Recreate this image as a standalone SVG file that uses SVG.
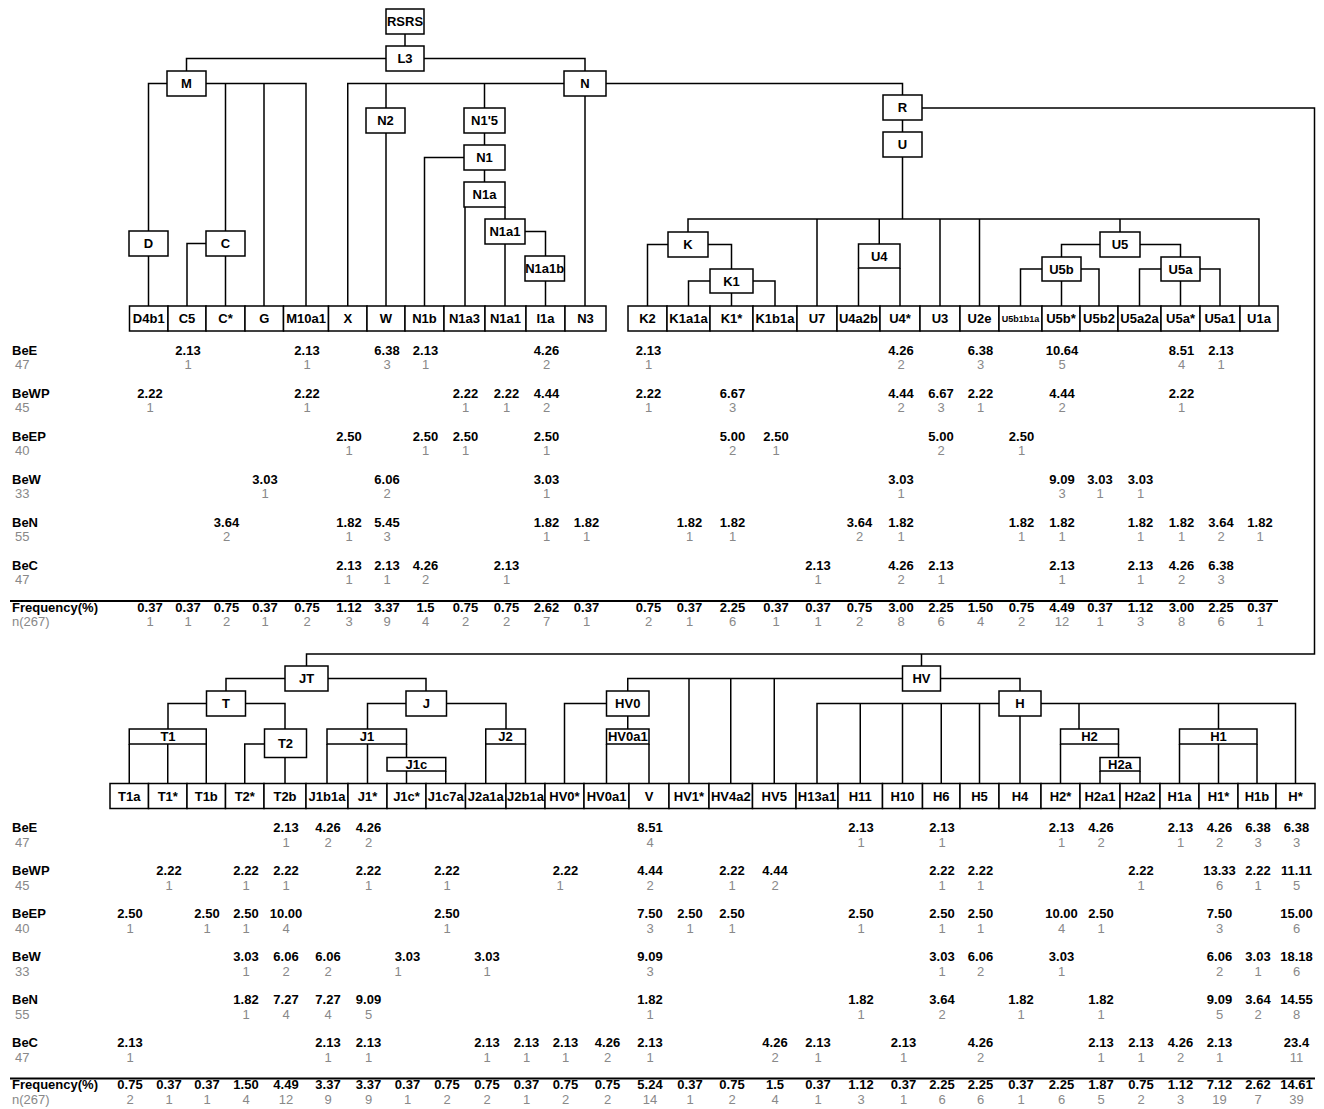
<svg xmlns="http://www.w3.org/2000/svg" width="1324" height="1109" viewBox="0 0 1324 1109">
<style>
rect{fill:#fff;stroke:#000;stroke-width:1.5}
.cn path{fill:none;stroke:#000;stroke-width:1.5}
text{font-family:"Liberation Sans",Arial,sans-serif;font-size:13px}
.n text,text.n{font-weight:bold;text-anchor:middle}
.v{font-weight:bold;text-anchor:middle}
.c{fill:#888;text-anchor:middle}
.lb{font-weight:bold}
.lc{fill:#888}
.sep{stroke:#000;stroke-width:2}
</style>
<rect x="0" y="0" width="1324" height="1109" style="stroke:none"/>
<g id="connectors" class="cn">
<path d="M405,34V46"/>
<path d="M186.5,71V58.5H585V71"/>
<path d="M148.5,231V83.5H306V306"/>
<path d="M225.5,83.5V231M264,83.5V306"/>
<path d="M148.5,256V306M206,243.5H187V306M225.5,256V306"/>
<path d="M347.75,306V83.5H902.5V95"/>
<path d="M386,83.5V108M386,133V306"/>
<path d="M484.5,83.5V108M484.5,133V145M484.5,170V182"/>
<path d="M464,157.5H424.5V306"/>
<path d="M465,207V306M505,207V219M505,244V306"/>
<path d="M525,231.5H545.5V256M545.5,281V306"/>
<path d="M585,96V306"/>
<path d="M902.5,120V132M902.5,157V219"/>
<path d="M922,108H1314.5V654H306.5V666"/>
<path d="M688,232V219H1259V306"/>
<path d="M817,219V306M879.25,219V244M940,219V306M979.5,219V306M1120,219V232"/>
<path d="M668,244.5H647.5V306M708,244.5H731.5V269"/>
<path d="M710,281H688.5V306M753,281H775V306M731.5,293V306"/>
<path d="M858.5,268V306M900,268V306"/>
<path d="M1100,244.5H1061.5V257M1140,244.5H1180.5V257"/>
<path d="M1042,269H1020.5V306M1081,269H1099V306M1061.5,281V306"/>
<path d="M1161,269H1139.5V306M1200,269H1220V306M1180.5,281V306"/>
<path d="M226,691V678.5H426V691"/>
<path d="M168,729V703.5H285V729"/>
<path d="M129.25,744V783.5M167.75,744V783.5M206.25,744V783.5"/>
<path d="M264.5,744H244.75V783.5M285,757.5V783.5"/>
<path d="M367.5,729V703.5H506V729"/>
<path d="M327,744V783.5M367.5,744V783.5M406.5,744V757.5"/>
<path d="M406.5,771V783.5M445.75,771V783.5"/>
<path d="M485.75,744V783.5M525.5,744V783.5"/>
<path d="M627.75,691V678.5H1020V691M921.5,654V666"/>
<path d="M606.5,703.5H564.5V783.5M627.75,716V729"/>
<path d="M606.5,744V783.5M649,744V783.5"/>
<path d="M689,678.5V783.5M730.75,678.5V783.5M774.25,678.5V783.5"/>
<path d="M817,783.5V703.5H1295.5V783.5"/>
<path d="M860.25,703.5V783.5M902.5,703.5V783.5M941.25,703.5V783.5M979.5,703.5V783.5M1020,716V783.5"/>
<path d="M1079,703.5V729M1060.5,744V783.5M1118.5,744V757.5M1100,771V783.5M1140,771V783.5"/>
<path d="M1218.5,703.5V729M1179.5,744V783.5M1218.5,744V783.5M1257,744V783.5"/>
</g>
<g class="n">
<g id="node-RSRS"><rect x="386" y="9" width="38" height="25"/><text x="405" y="26">RSRS</text></g>
<g id="node-L3"><rect x="386" y="46" width="38" height="25"/><text x="405" y="63">L3</text></g>
<g id="node-M"><rect x="167" y="71" width="39" height="25"/><text x="186.5" y="88">M</text></g>
<g id="node-N"><rect x="564" y="71" width="42" height="25"/><text x="585" y="88">N</text></g>
<g id="node-D"><rect x="129" y="231" width="39" height="25"/><text x="148.5" y="248">D</text></g>
<g id="node-C"><rect x="206" y="231" width="39" height="25"/><text x="225.5" y="248">C</text></g>
<g id="node-N2"><rect x="366" y="108" width="39" height="25"/><text x="385.5" y="125">N2</text></g>
<g id="node-N1p5"><rect x="464" y="108" width="41" height="25"/><text x="484.5" y="125">N1'5</text></g>
<g id="node-N1"><rect x="464" y="145" width="41" height="25"/><text x="484.5" y="162">N1</text></g>
<g id="node-N1a"><rect x="464" y="182" width="41" height="25"/><text x="484.5" y="199">N1a</text></g>
<g id="node-N1a1"><rect x="485" y="219" width="40" height="25"/><text x="505" y="236">N1a1</text></g>
<g id="node-N1a1b"><rect x="525" y="256" width="39.5" height="25"/><text x="544.75" y="273">N1a1b</text></g>
<g id="node-R"><rect x="883" y="95" width="39" height="25"/><text x="902.5" y="112">R</text></g>
<g id="node-U"><rect x="883" y="132" width="39" height="25"/><text x="902.5" y="149">U</text></g>
<g id="node-K"><rect x="668" y="232" width="40" height="25"/><text x="688" y="249">K</text></g>
<g id="node-K1"><rect x="710" y="269" width="43" height="24"/><text x="731.5" y="285.5">K1</text></g>
<g id="node-U4"><rect x="858.5" y="244" width="41.5" height="24"/><text x="879.25" y="260.5">U4</text></g>
<g id="node-U5"><rect x="1100" y="232" width="40" height="25"/><text x="1120" y="249">U5</text></g>
<g id="node-U5b"><rect x="1042" y="257" width="39" height="24"/><text x="1061.5" y="273.5">U5b</text></g>
<g id="node-U5a"><rect x="1161" y="257" width="39" height="24"/><text x="1180.5" y="273.5">U5a</text></g>

<g id="leaf-D4b1"><rect x="129.5" y="306" width="38.5" height="25"/><text x="148.75" y="323">D4b1</text></g>
<g id="leaf-C5"><rect x="168" y="306" width="38" height="25"/><text x="187" y="323">C5</text></g>
<g id="leaf-Cstar"><rect x="206" y="306" width="39" height="25"/><text x="225.5" y="323">C*</text></g>
<g id="leaf-G"><rect x="245" y="306" width="38.5" height="25"/><text x="264.25" y="323">G</text></g>
<g id="leaf-M10a1"><rect x="283.5" y="306" width="45" height="25"/><text x="306" y="323">M10a1</text></g>
<g id="leaf-X"><rect x="328.5" y="306" width="38.5" height="25"/><text x="347.75" y="323">X</text></g>
<g id="leaf-W"><rect x="367" y="306" width="38" height="25"/><text x="386" y="323">W</text></g>
<g id="leaf-N1b"><rect x="405" y="306" width="39" height="25"/><text x="424.5" y="323">N1b</text></g>
<g id="leaf-N1a3"><rect x="444" y="306" width="41" height="25"/><text x="464.5" y="323">N1a3</text></g>
<g id="leaf-N1a1"><rect x="485" y="306" width="41" height="25"/><text x="505.5" y="323">N1a1</text></g>
<g id="leaf-I1a"><rect x="526" y="306" width="39" height="25"/><text x="545.5" y="323">I1a</text></g>
<g id="leaf-N3"><rect x="565" y="306" width="41" height="25"/><text x="585.5" y="323">N3</text></g>
<g id="leaf-K2"><rect x="628" y="306" width="39" height="25"/><text x="647.5" y="323">K2</text></g>
<g id="leaf-K1a1a"><rect x="667" y="306" width="43" height="25"/><text x="688.5" y="323">K1a1a</text></g>
<g id="leaf-K1star"><rect x="710" y="306" width="43" height="25"/><text x="731.5" y="323">K1*</text></g>
<g id="leaf-K1b1a"><rect x="753" y="306" width="44" height="25"/><text x="775" y="323">K1b1a</text></g>
<g id="leaf-U7"><rect x="797" y="306" width="40" height="25"/><text x="817" y="323">U7</text></g>
<g id="leaf-U4a2b"><rect x="837" y="306" width="43" height="25"/><text x="858.5" y="323">U4a2b</text></g>
<g id="leaf-U4star"><rect x="880" y="306" width="40" height="25"/><text x="900" y="323">U4*</text></g>
<g id="leaf-U3"><rect x="920" y="306" width="40" height="25"/><text x="940" y="323">U3</text></g>
<g id="leaf-U2e"><rect x="960" y="306" width="39" height="25"/><text x="979.5" y="323">U2e</text></g>
<g id="leaf-U5b1b1a"><rect x="999" y="306" width="43" height="25"/><text x="1020.5" y="321.5" style="font-size:9px">U5b1b1a</text></g>
<g id="leaf-U5bstar"><rect x="1042" y="306" width="38" height="25"/><text x="1061" y="323">U5b*</text></g>
<g id="leaf-U5b2"><rect x="1080" y="306" width="38" height="25"/><text x="1099" y="323">U5b2</text></g>
<g id="leaf-U5a2a"><rect x="1118" y="306" width="43" height="25"/><text x="1139.5" y="323">U5a2a</text></g>
<g id="leaf-U5astar"><rect x="1161" y="306" width="39" height="25"/><text x="1180.5" y="323">U5a*</text></g>
<g id="leaf-U5a1"><rect x="1200" y="306" width="40" height="25"/><text x="1220" y="323">U5a1</text></g>
<g id="leaf-U1a"><rect x="1240" y="306" width="38" height="25"/><text x="1259" y="323">U1a</text></g>

<g id="node-JT"><rect x="285" y="666" width="43" height="25"/><text x="306.5" y="683">JT</text></g>
<g id="node-T"><rect x="206.5" y="691" width="39" height="25"/><text x="226" y="708">T</text></g>
<g id="node-J"><rect x="406" y="691" width="40.5" height="25"/><text x="426.25" y="708">J</text></g>
<g id="node-T1"><rect x="129.25" y="729" width="77" height="15"/><text x="168" y="741">T1</text></g>
<g id="node-T2"><rect x="264.5" y="729" width="42" height="28.5"/><text x="285.5" y="747.5">T2</text></g>
<g id="node-J1"><rect x="327" y="729" width="79.5" height="15"/><text x="367" y="741">J1</text></g>
<g id="node-J1c"><rect x="387" y="757.5" width="58.75" height="13.5"/><text x="416.4" y="768.5">J1c</text></g>
<g id="node-J2"><rect x="485.75" y="729" width="39.75" height="15"/><text x="505.6" y="741">J2</text></g>
<g id="node-HV0"><rect x="606.5" y="691" width="42.5" height="25"/><text x="627.75" y="708">HV0</text></g>
<g id="node-HV0a1"><rect x="606.5" y="729" width="42.5" height="15"/><text x="627.75" y="741">HV0a1</text></g>
<g id="node-HV"><rect x="902.5" y="666" width="38" height="25"/><text x="921.5" y="683">HV</text></g>
<g id="node-H"><rect x="999" y="691" width="42" height="25"/><text x="1020" y="708">H</text></g>
<g id="node-H2"><rect x="1060.5" y="729" width="58" height="15"/><text x="1089.5" y="741">H2</text></g>
<g id="node-H2a"><rect x="1100" y="757.5" width="40" height="13.5"/><text x="1120" y="768.5">H2a</text></g>
<g id="node-H1"><rect x="1179.5" y="729" width="77.5" height="15"/><text x="1218.5" y="741">H1</text></g>

<g id="leaf-T1a"><rect x="110" y="783.5" width="38.5" height="25"/><text x="129.25" y="800.5">T1a</text></g>
<g id="leaf-T1star"><rect x="148.5" y="783.5" width="38.5" height="25"/><text x="167.75" y="800.5">T1*</text></g>
<g id="leaf-T1b"><rect x="187" y="783.5" width="38.5" height="25"/><text x="206.25" y="800.5">T1b</text></g>
<g id="leaf-T2star"><rect x="225.5" y="783.5" width="38.5" height="25"/><text x="244.75" y="800.5">T2*</text></g>
<g id="leaf-T2b"><rect x="264" y="783.5" width="42" height="25"/><text x="285" y="800.5">T2b</text></g>
<g id="leaf-J1b1a"><rect x="306" y="783.5" width="42" height="25"/><text x="327" y="800.5">J1b1a</text></g>
<g id="leaf-J1star"><rect x="348" y="783.5" width="39" height="25"/><text x="367.5" y="800.5">J1*</text></g>
<g id="leaf-J1cstar"><rect x="387" y="783.5" width="39" height="25"/><text x="406.5" y="800.5">J1c*</text></g>
<g id="leaf-J1c7a"><rect x="426" y="783.5" width="39.5" height="25"/><text x="445.75" y="800.5">J1c7a</text></g>
<g id="leaf-J2a1a"><rect x="465.5" y="783.5" width="40.5" height="25"/><text x="485.75" y="800.5">J2a1a</text></g>
<g id="leaf-J2b1a"><rect x="506" y="783.5" width="39" height="25"/><text x="525.5" y="800.5">J2b1a</text></g>
<g id="leaf-HV0star"><rect x="545" y="783.5" width="39" height="25"/><text x="564.5" y="800.5">HV0*</text></g>
<g id="leaf-HV0a1"><rect x="584" y="783.5" width="45" height="25"/><text x="606.5" y="800.5">HV0a1</text></g>
<g id="leaf-V"><rect x="629" y="783.5" width="40" height="25"/><text x="649" y="800.5">V</text></g>
<g id="leaf-HV1star"><rect x="669" y="783.5" width="40" height="25"/><text x="689" y="800.5">HV1*</text></g>
<g id="leaf-HV4a2"><rect x="709" y="783.5" width="43.5" height="25"/><text x="730.75" y="800.5">HV4a2</text></g>
<g id="leaf-HV5"><rect x="752.5" y="783.5" width="43.5" height="25"/><text x="774.25" y="800.5">HV5</text></g>
<g id="leaf-H13a1"><rect x="796" y="783.5" width="42" height="25"/><text x="817" y="800.5">H13a1</text></g>
<g id="leaf-H11"><rect x="838" y="783.5" width="44.5" height="25"/><text x="860.25" y="800.5">H11</text></g>
<g id="leaf-H10"><rect x="882.5" y="783.5" width="40" height="25"/><text x="902.5" y="800.5">H10</text></g>
<g id="leaf-H6"><rect x="922.5" y="783.5" width="37.5" height="25"/><text x="941.25" y="800.5">H6</text></g>
<g id="leaf-H5"><rect x="960" y="783.5" width="39" height="25"/><text x="979.5" y="800.5">H5</text></g>
<g id="leaf-H4"><rect x="999" y="783.5" width="42" height="25"/><text x="1020" y="800.5">H4</text></g>
<g id="leaf-H2star"><rect x="1041" y="783.5" width="39" height="25"/><text x="1060.5" y="800.5">H2*</text></g>
<g id="leaf-H2a1"><rect x="1080" y="783.5" width="40" height="25"/><text x="1100" y="800.5">H2a1</text></g>
<g id="leaf-H2a2"><rect x="1120" y="783.5" width="40" height="25"/><text x="1140" y="800.5">H2a2</text></g>
<g id="leaf-H1a"><rect x="1160" y="783.5" width="39" height="25"/><text x="1179.5" y="800.5">H1a</text></g>
<g id="leaf-H1star"><rect x="1199" y="783.5" width="39" height="25"/><text x="1218.5" y="800.5">H1*</text></g>
<g id="leaf-H1b"><rect x="1238" y="783.5" width="38" height="25"/><text x="1257" y="800.5">H1b</text></g>
<g id="leaf-Hstar"><rect x="1276" y="783.5" width="39" height="25"/><text x="1295.5" y="800.5">H*</text></g>
</g>

<g id="table-top">
<line class="sep" x1="10" y1="601" x2="1278" y2="601"/>
<text class="lb" x="12" y="354.5">BeE</text><text class="lc" x="15" y="369">47</text>
<text class="lb" x="12" y="397.5">BeWP</text><text class="lc" x="15" y="412">45</text>
<text class="lb" x="12" y="440.5">BeEP</text><text class="lc" x="15" y="455">40</text>
<text class="lb" x="12" y="483.5">BeW</text><text class="lc" x="15" y="498">33</text>
<text class="lb" x="12" y="526.5">BeN</text><text class="lc" x="15" y="541">55</text>
<text class="lb" x="12" y="569.5">BeC</text><text class="lc" x="15" y="584">47</text>
<text class="lb" x="12" y="612">Frequency(%)</text><text class="lc" x="12" y="626">n(267)</text>
<g class="v">
<text x="188" y="354.5">2.13</text><text x="307" y="354.5">2.13</text><text x="387" y="354.5">6.38</text><text x="425.5" y="354.5">2.13</text><text x="546.5" y="354.5">4.26</text><text x="648.5" y="354.5">2.13</text><text x="901" y="354.5">4.26</text><text x="980.5" y="354.5">6.38</text><text x="1062" y="354.5">10.64</text><text x="1181.5" y="354.5">8.51</text><text x="1221" y="354.5">2.13</text>
<text x="150" y="397.5">2.22</text><text x="307" y="397.5">2.22</text><text x="465.5" y="397.5">2.22</text><text x="506.5" y="397.5">2.22</text><text x="546.5" y="397.5">4.44</text><text x="648.5" y="397.5">2.22</text><text x="732.5" y="397.5">6.67</text><text x="901" y="397.5">4.44</text><text x="941" y="397.5">6.67</text><text x="980.5" y="397.5">2.22</text><text x="1062" y="397.5">4.44</text><text x="1181.5" y="397.5">2.22</text>
<text x="349" y="440.5">2.50</text><text x="425.5" y="440.5">2.50</text><text x="465.5" y="440.5">2.50</text><text x="546.5" y="440.5">2.50</text><text x="732.5" y="440.5">5.00</text><text x="776" y="440.5">2.50</text><text x="941" y="440.5">5.00</text><text x="1021.5" y="440.5">2.50</text>
<text x="265" y="483.5">3.03</text><text x="387" y="483.5">6.06</text><text x="546.5" y="483.5">3.03</text><text x="901" y="483.5">3.03</text><text x="1062" y="483.5">9.09</text><text x="1100" y="483.5">3.03</text><text x="1140.5" y="483.5">3.03</text>
<text x="226.5" y="526.5">3.64</text><text x="349" y="526.5">1.82</text><text x="387" y="526.5">5.45</text><text x="546.5" y="526.5">1.82</text><text x="586.5" y="526.5">1.82</text><text x="689.5" y="526.5">1.82</text><text x="732.5" y="526.5">1.82</text><text x="859.5" y="526.5">3.64</text><text x="901" y="526.5">1.82</text><text x="1021.5" y="526.5">1.82</text><text x="1062" y="526.5">1.82</text><text x="1140.5" y="526.5">1.82</text><text x="1181.5" y="526.5">1.82</text><text x="1221" y="526.5">3.64</text><text x="1260" y="526.5">1.82</text>
<text x="349" y="569.5">2.13</text><text x="387" y="569.5">2.13</text><text x="425.5" y="569.5">4.26</text><text x="506.5" y="569.5">2.13</text><text x="818" y="569.5">2.13</text><text x="901" y="569.5">4.26</text><text x="941" y="569.5">2.13</text><text x="1062" y="569.5">2.13</text><text x="1140.5" y="569.5">2.13</text><text x="1181.5" y="569.5">4.26</text><text x="1221" y="569.5">6.38</text>
<text x="150" y="612">0.37</text><text x="188" y="612">0.37</text><text x="226.5" y="612">0.75</text><text x="265" y="612">0.37</text><text x="307" y="612">0.75</text><text x="349" y="612">1.12</text><text x="387" y="612">3.37</text><text x="425.5" y="612">1.5</text><text x="465.5" y="612">0.75</text><text x="506.5" y="612">0.75</text><text x="546.5" y="612">2.62</text><text x="586.5" y="612">0.37</text><text x="648.5" y="612">0.75</text><text x="689.5" y="612">0.37</text><text x="732.5" y="612">2.25</text><text x="776" y="612">0.37</text><text x="818" y="612">0.37</text><text x="859.5" y="612">0.75</text><text x="901" y="612">3.00</text><text x="941" y="612">2.25</text><text x="980.5" y="612">1.50</text><text x="1021.5" y="612">0.75</text><text x="1062" y="612">4.49</text><text x="1100" y="612">0.37</text><text x="1140.5" y="612">1.12</text><text x="1181.5" y="612">3.00</text><text x="1221" y="612">2.25</text><text x="1260" y="612">0.37</text>
</g>
<g class="c">
<text x="188" y="369">1</text><text x="307" y="369">1</text><text x="387" y="369">3</text><text x="425.5" y="369">1</text><text x="546.5" y="369">2</text><text x="648.5" y="369">1</text><text x="901" y="369">2</text><text x="980.5" y="369">3</text><text x="1062" y="369">5</text><text x="1181.5" y="369">4</text><text x="1221" y="369">1</text>
<text x="150" y="412">1</text><text x="307" y="412">1</text><text x="465.5" y="412">1</text><text x="506.5" y="412">1</text><text x="546.5" y="412">2</text><text x="648.5" y="412">1</text><text x="732.5" y="412">3</text><text x="901" y="412">2</text><text x="941" y="412">3</text><text x="980.5" y="412">1</text><text x="1062" y="412">2</text><text x="1181.5" y="412">1</text>
<text x="349" y="455">1</text><text x="425.5" y="455">1</text><text x="465.5" y="455">1</text><text x="546.5" y="455">1</text><text x="732.5" y="455">2</text><text x="776" y="455">1</text><text x="941" y="455">2</text><text x="1021.5" y="455">1</text>
<text x="265" y="498">1</text><text x="387" y="498">2</text><text x="546.5" y="498">1</text><text x="901" y="498">1</text><text x="1062" y="498">3</text><text x="1100" y="498">1</text><text x="1140.5" y="498">1</text>
<text x="226.5" y="541">2</text><text x="349" y="541">1</text><text x="387" y="541">3</text><text x="546.5" y="541">1</text><text x="586.5" y="541">1</text><text x="689.5" y="541">1</text><text x="732.5" y="541">1</text><text x="859.5" y="541">2</text><text x="901" y="541">1</text><text x="1021.5" y="541">1</text><text x="1062" y="541">1</text><text x="1140.5" y="541">1</text><text x="1181.5" y="541">1</text><text x="1221" y="541">2</text><text x="1260" y="541">1</text>
<text x="349" y="584">1</text><text x="387" y="584">1</text><text x="425.5" y="584">2</text><text x="506.5" y="584">1</text><text x="818" y="584">1</text><text x="901" y="584">2</text><text x="941" y="584">1</text><text x="1062" y="584">1</text><text x="1140.5" y="584">1</text><text x="1181.5" y="584">2</text><text x="1221" y="584">3</text>
<text x="150" y="626">1</text><text x="188" y="626">1</text><text x="226.5" y="626">2</text><text x="265" y="626">1</text><text x="307" y="626">2</text><text x="349" y="626">3</text><text x="387" y="626">9</text><text x="425.5" y="626">4</text><text x="465.5" y="626">2</text><text x="506.5" y="626">2</text><text x="546.5" y="626">7</text><text x="586.5" y="626">1</text><text x="648.5" y="626">2</text><text x="689.5" y="626">1</text><text x="732.5" y="626">6</text><text x="776" y="626">1</text><text x="818" y="626">1</text><text x="859.5" y="626">2</text><text x="901" y="626">8</text><text x="941" y="626">6</text><text x="980.5" y="626">4</text><text x="1021.5" y="626">2</text><text x="1062" y="626">12</text><text x="1100" y="626">1</text><text x="1140.5" y="626">3</text><text x="1181.5" y="626">8</text><text x="1221" y="626">6</text><text x="1260" y="626">1</text>
</g>
</g>

<g id="table-bottom">
<line class="sep" x1="10" y1="1078.5" x2="1315" y2="1078.5"/>
<text class="lb" x="12" y="832">BeE</text><text class="lc" x="15" y="846.5">47</text>
<text class="lb" x="12" y="875">BeWP</text><text class="lc" x="15" y="889.5">45</text>
<text class="lb" x="12" y="918">BeEP</text><text class="lc" x="15" y="932.5">40</text>
<text class="lb" x="12" y="961">BeW</text><text class="lc" x="15" y="975.5">33</text>
<text class="lb" x="12" y="1004">BeN</text><text class="lc" x="15" y="1018.5">55</text>
<text class="lb" x="12" y="1047">BeC</text><text class="lc" x="15" y="1061.5">47</text>
<text class="lb" x="12" y="1089">Frequency(%)</text><text class="lc" x="12" y="1103.5">n(267)</text>
<g class="v">
<text x="286" y="832">2.13</text><text x="328" y="832">4.26</text><text x="368.5" y="832">4.26</text><text x="650" y="832">8.51</text><text x="861" y="832">2.13</text><text x="942" y="832">2.13</text><text x="1061.5" y="832">2.13</text><text x="1101" y="832">4.26</text><text x="1180.5" y="832">2.13</text><text x="1219.5" y="832">4.26</text><text x="1258" y="832">6.38</text><text x="1296.5" y="832">6.38</text>
<text x="169" y="875">2.22</text><text x="246" y="875">2.22</text><text x="286" y="875">2.22</text><text x="368.5" y="875">2.22</text><text x="447" y="875">2.22</text><text x="565.5" y="875">2.22</text><text x="650" y="875">4.44</text><text x="732" y="875">2.22</text><text x="775" y="875">4.44</text><text x="942" y="875">2.22</text><text x="980.5" y="875">2.22</text><text x="1141" y="875">2.22</text><text x="1219.5" y="875">13.33</text><text x="1258" y="875">2.22</text><text x="1296.5" y="875">11.11</text>
<text x="130" y="918">2.50</text><text x="207" y="918">2.50</text><text x="246" y="918">2.50</text><text x="286" y="918">10.00</text><text x="447" y="918">2.50</text><text x="650" y="918">7.50</text><text x="690" y="918">2.50</text><text x="732" y="918">2.50</text><text x="861" y="918">2.50</text><text x="942" y="918">2.50</text><text x="980.5" y="918">2.50</text><text x="1061.5" y="918">10.00</text><text x="1101" y="918">2.50</text><text x="1219.5" y="918">7.50</text><text x="1296.5" y="918">15.00</text>
<text x="246" y="961">3.03</text><text x="286" y="961">6.06</text><text x="328" y="961">6.06</text><text x="407.5" y="961">3.03</text><text x="487" y="961">3.03</text><text x="650" y="961">9.09</text><text x="942" y="961">3.03</text><text x="980.5" y="961">6.06</text><text x="1061.5" y="961">3.03</text><text x="1219.5" y="961">6.06</text><text x="1258" y="961">3.03</text><text x="1296.5" y="961">18.18</text>
<text x="246" y="1004">1.82</text><text x="286" y="1004">7.27</text><text x="328" y="1004">7.27</text><text x="368.5" y="1004">9.09</text><text x="650" y="1004">1.82</text><text x="861" y="1004">1.82</text><text x="942" y="1004">3.64</text><text x="1021" y="1004">1.82</text><text x="1101" y="1004">1.82</text><text x="1219.5" y="1004">9.09</text><text x="1258" y="1004">3.64</text><text x="1296.5" y="1004">14.55</text>
<text x="130" y="1047">2.13</text><text x="328" y="1047">2.13</text><text x="368.5" y="1047">2.13</text><text x="487" y="1047">2.13</text><text x="526.5" y="1047">2.13</text><text x="565.5" y="1047">2.13</text><text x="607.5" y="1047">4.26</text><text x="650" y="1047">2.13</text><text x="775" y="1047">4.26</text><text x="818" y="1047">2.13</text><text x="903.5" y="1047">2.13</text><text x="980.5" y="1047">4.26</text><text x="1101" y="1047">2.13</text><text x="1141" y="1047">2.13</text><text x="1180.5" y="1047">4.26</text><text x="1219.5" y="1047">2.13</text><text x="1296.5" y="1047">23.4</text>
<text x="130" y="1089">0.75</text><text x="169" y="1089">0.37</text><text x="207" y="1089">0.37</text><text x="246" y="1089">1.50</text><text x="286" y="1089">4.49</text><text x="328" y="1089">3.37</text><text x="368.5" y="1089">3.37</text><text x="407.5" y="1089">0.37</text><text x="447" y="1089">0.75</text><text x="487" y="1089">0.75</text><text x="526.5" y="1089">0.37</text><text x="565.5" y="1089">0.75</text><text x="607.5" y="1089">0.75</text><text x="650" y="1089">5.24</text><text x="690" y="1089">0.37</text><text x="732" y="1089">0.75</text><text x="775" y="1089">1.5</text><text x="818" y="1089">0.37</text><text x="861" y="1089">1.12</text><text x="903.5" y="1089">0.37</text><text x="942" y="1089">2.25</text><text x="980.5" y="1089">2.25</text><text x="1021" y="1089">0.37</text><text x="1061.5" y="1089">2.25</text><text x="1101" y="1089">1.87</text><text x="1141" y="1089">0.75</text><text x="1180.5" y="1089">1.12</text><text x="1219.5" y="1089">7.12</text><text x="1258" y="1089">2.62</text><text x="1296.5" y="1089">14.61</text>
</g>
<g class="c">
<text x="286" y="846.5">1</text><text x="328" y="846.5">2</text><text x="368.5" y="846.5">2</text><text x="650" y="846.5">4</text><text x="861" y="846.5">1</text><text x="942" y="846.5">1</text><text x="1061.5" y="846.5">1</text><text x="1101" y="846.5">2</text><text x="1180.5" y="846.5">1</text><text x="1219.5" y="846.5">2</text><text x="1258" y="846.5">3</text><text x="1296.5" y="846.5">3</text>
<text x="169" y="889.5">1</text><text x="246" y="889.5">1</text><text x="286" y="889.5">1</text><text x="368.5" y="889.5">1</text><text x="447" y="889.5">1</text><text x="560" y="889.5">1</text><text x="650" y="889.5">2</text><text x="732" y="889.5">1</text><text x="775" y="889.5">2</text><text x="942" y="889.5">1</text><text x="980.5" y="889.5">1</text><text x="1141" y="889.5">1</text><text x="1219.5" y="889.5">6</text><text x="1258" y="889.5">1</text><text x="1296.5" y="889.5">5</text>
<text x="130" y="932.5">1</text><text x="207" y="932.5">1</text><text x="246" y="932.5">1</text><text x="286" y="932.5">4</text><text x="447" y="932.5">1</text><text x="650" y="932.5">3</text><text x="690" y="932.5">1</text><text x="732" y="932.5">1</text><text x="861" y="932.5">1</text><text x="942" y="932.5">1</text><text x="980.5" y="932.5">1</text><text x="1061.5" y="932.5">4</text><text x="1101" y="932.5">1</text><text x="1219.5" y="932.5">3</text><text x="1296.5" y="932.5">6</text>
<text x="246" y="975.5">1</text><text x="286" y="975.5">2</text><text x="328" y="975.5">2</text><text x="398" y="975.5">1</text><text x="487" y="975.5">1</text><text x="650" y="975.5">3</text><text x="942" y="975.5">1</text><text x="980.5" y="975.5">2</text><text x="1061.5" y="975.5">1</text><text x="1219.5" y="975.5">2</text><text x="1258" y="975.5">1</text><text x="1296.5" y="975.5">6</text>
<text x="246" y="1018.5">1</text><text x="286" y="1018.5">4</text><text x="328" y="1018.5">4</text><text x="368.5" y="1018.5">5</text><text x="650" y="1018.5">1</text><text x="861" y="1018.5">1</text><text x="942" y="1018.5">2</text><text x="1021" y="1018.5">1</text><text x="1101" y="1018.5">1</text><text x="1219.5" y="1018.5">5</text><text x="1258" y="1018.5">2</text><text x="1296.5" y="1018.5">8</text>
<text x="130" y="1061.5">1</text><text x="328" y="1061.5">1</text><text x="368.5" y="1061.5">1</text><text x="487" y="1061.5">1</text><text x="526.5" y="1061.5">1</text><text x="565.5" y="1061.5">1</text><text x="607.5" y="1061.5">2</text><text x="650" y="1061.5">1</text><text x="775" y="1061.5">2</text><text x="818" y="1061.5">1</text><text x="903.5" y="1061.5">1</text><text x="980.5" y="1061.5">2</text><text x="1101" y="1061.5">1</text><text x="1141" y="1061.5">1</text><text x="1180.5" y="1061.5">2</text><text x="1219.5" y="1061.5">1</text><text x="1296.5" y="1061.5">11</text>
<text x="130" y="1103.5">2</text><text x="169" y="1103.5">1</text><text x="207" y="1103.5">1</text><text x="246" y="1103.5">4</text><text x="286" y="1103.5">12</text><text x="328" y="1103.5">9</text><text x="368.5" y="1103.5">9</text><text x="407.5" y="1103.5">1</text><text x="447" y="1103.5">2</text><text x="487" y="1103.5">2</text><text x="526.5" y="1103.5">1</text><text x="565.5" y="1103.5">2</text><text x="607.5" y="1103.5">2</text><text x="650" y="1103.5">14</text><text x="690" y="1103.5">1</text><text x="732" y="1103.5">2</text><text x="775" y="1103.5">4</text><text x="818" y="1103.5">1</text><text x="861" y="1103.5">3</text><text x="903.5" y="1103.5">1</text><text x="942" y="1103.5">6</text><text x="980.5" y="1103.5">6</text><text x="1021" y="1103.5">1</text><text x="1061.5" y="1103.5">6</text><text x="1101" y="1103.5">5</text><text x="1141" y="1103.5">2</text><text x="1180.5" y="1103.5">3</text><text x="1219.5" y="1103.5">19</text><text x="1258" y="1103.5">7</text><text x="1296.5" y="1103.5">39</text>
</g>
</g>
</svg>
